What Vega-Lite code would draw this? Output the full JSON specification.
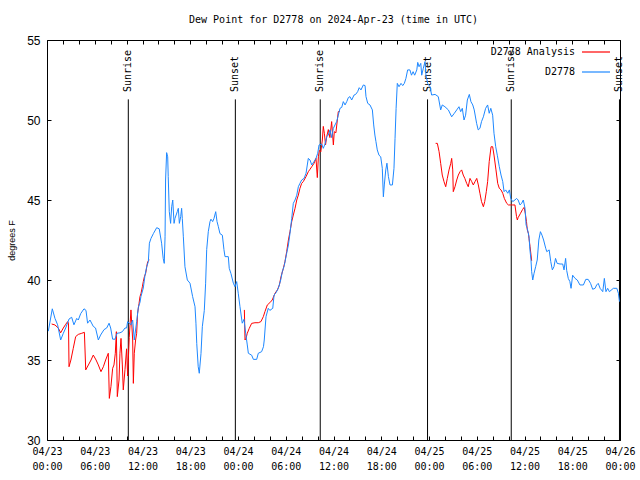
{
  "$schema": "https://vega.github.io/schema/vega-lite/v6.json",
  "width": 573,
  "height": 400,
  "autosize": {"type": "none"},
  "padding": {"left": 47, "top": 40, "right": 20, "bottom": 40},
  "background": "white",
  "config": {
    "view": {"stroke": "black", "strokeWidth": 1},
    "axis": {"grid": false, "domain": false, "tickColor": "black", "labelColor": "black", "titleColor": "black", "tickWidth": 1, "labelOverlap": false}
  },
  "title": {"text": "Dew Point for D2778 on 2024-Apr-23 (time in UTC)", "font": "DejaVu Sans Mono", "fontSize": 10, "fontWeight": "normal", "offset": 9, "anchor": "middle", "color": "black"},
  "datasets": {
    "events": [
      {"t": "2024-04-23T10:13Z", "ev": "Sunrise"},
      {"t": "2024-04-23T23:40Z", "ev": "Sunset"},
      {"t": "2024-04-24T10:20Z", "ev": "Sunrise"},
      {"t": "2024-04-24T23:49Z", "ev": "Sunset"},
      {"t": "2024-04-25T10:20Z", "ev": "Sunrise"},
      {"t": "2024-04-25T23:56Z", "ev": "Sunset"}
    ],
    "analysis": [
      {"seg": "a", "t": "2024-04-23T00:35Z", "v": 37.25},
      {"seg": "a", "t": "2024-04-23T01:00Z", "v": 37.19},
      {"seg": "a", "t": "2024-04-23T01:25Z", "v": 37.0},
      {"seg": "a", "t": "2024-04-23T01:43Z", "v": 36.7},
      {"seg": "a", "t": "2024-04-23T02:03Z", "v": 37.0},
      {"seg": "a", "t": "2024-04-23T02:21Z", "v": 37.23},
      {"seg": "a", "t": "2024-04-23T02:36Z", "v": 37.4},
      {"seg": "a", "t": "2024-04-23T02:42Z", "v": 37.3},
      {"seg": "a", "t": "2024-04-23T02:46Z", "v": 34.58},
      {"seg": "a", "t": "2024-04-23T03:00Z", "v": 35.0},
      {"seg": "a", "t": "2024-04-23T03:18Z", "v": 35.73},
      {"seg": "a", "t": "2024-04-23T03:36Z", "v": 36.46},
      {"seg": "a", "t": "2024-04-23T03:56Z", "v": 36.6},
      {"seg": "a", "t": "2024-04-23T04:22Z", "v": 36.67},
      {"seg": "a", "t": "2024-04-23T04:42Z", "v": 36.73},
      {"seg": "a", "t": "2024-04-23T04:52Z", "v": 34.38},
      {"seg": "a", "t": "2024-04-23T05:12Z", "v": 34.69},
      {"seg": "a", "t": "2024-04-23T05:32Z", "v": 35.0},
      {"seg": "a", "t": "2024-04-23T05:49Z", "v": 35.31},
      {"seg": "a", "t": "2024-04-23T06:10Z", "v": 35.0},
      {"seg": "a", "t": "2024-04-23T06:27Z", "v": 34.69},
      {"seg": "a", "t": "2024-04-23T06:47Z", "v": 34.27},
      {"seg": "a", "t": "2024-04-23T07:05Z", "v": 34.58},
      {"seg": "a", "t": "2024-04-23T07:22Z", "v": 35.0},
      {"seg": "a", "t": "2024-04-23T07:42Z", "v": 35.42},
      {"seg": "a", "t": "2024-04-23T07:50Z", "v": 32.6},
      {"seg": "a", "t": "2024-04-23T08:02Z", "v": 33.33},
      {"seg": "a", "t": "2024-04-23T08:15Z", "v": 34.48},
      {"seg": "a", "t": "2024-04-23T08:25Z", "v": 34.69},
      {"seg": "a", "t": "2024-04-23T08:35Z", "v": 35.42},
      {"seg": "a", "t": "2024-04-23T08:43Z", "v": 36.77},
      {"seg": "a", "t": "2024-04-23T08:50Z", "v": 32.71},
      {"seg": "a", "t": "2024-04-23T09:03Z", "v": 33.75},
      {"seg": "a", "t": "2024-04-23T09:10Z", "v": 35.42},
      {"seg": "a", "t": "2024-04-23T09:18Z", "v": 36.35},
      {"seg": "a", "t": "2024-04-23T09:28Z", "v": 34.69},
      {"seg": "a", "t": "2024-04-23T09:35Z", "v": 33.13},
      {"seg": "a", "t": "2024-04-23T09:48Z", "v": 34.4},
      {"seg": "a", "t": "2024-04-23T10:00Z", "v": 35.7},
      {"seg": "a", "t": "2024-04-23T10:08Z", "v": 34.0},
      {"seg": "a", "t": "2024-04-23T10:20Z", "v": 36.4},
      {"seg": "a", "t": "2024-04-23T10:33Z", "v": 38.13},
      {"seg": "a", "t": "2024-04-23T10:46Z", "v": 36.25},
      {"seg": "a", "t": "2024-04-23T10:51Z", "v": 33.54},
      {"seg": "a", "t": "2024-04-23T10:58Z", "v": 35.42},
      {"seg": "a", "t": "2024-04-23T11:08Z", "v": 36.25},
      {"seg": "a", "t": "2024-04-23T11:16Z", "v": 36.67},
      {"seg": "a", "t": "2024-04-23T11:23Z", "v": 37.92},
      {"seg": "a", "t": "2024-04-23T11:34Z", "v": 38.54},
      {"seg": "a", "t": "2024-04-23T11:41Z", "v": 38.96},
      {"seg": "a", "t": "2024-04-23T11:49Z", "v": 39.17},
      {"seg": "a", "t": "2024-04-23T11:59Z", "v": 39.58},
      {"seg": "a", "t": "2024-04-23T12:06Z", "v": 39.9},
      {"seg": "a", "t": "2024-04-23T12:14Z", "v": 40.2},
      {"seg": "a", "t": "2024-04-23T12:24Z", "v": 40.42},
      {"seg": "a", "t": "2024-04-23T12:32Z", "v": 40.83},
      {"seg": "a", "t": "2024-04-23T12:39Z", "v": 41.15},
      {"seg": "a", "t": "2024-04-23T12:52Z", "v": 41.25},
      {"seg": "b", "t": "2024-04-24T00:48Z", "v": 38.13},
      {"seg": "b", "t": "2024-04-24T00:53Z", "v": 36.25},
      {"seg": "b", "t": "2024-04-24T01:00Z", "v": 36.35},
      {"seg": "b", "t": "2024-04-24T01:10Z", "v": 36.67},
      {"seg": "b", "t": "2024-04-24T01:25Z", "v": 36.98},
      {"seg": "b", "t": "2024-04-24T01:43Z", "v": 37.29},
      {"seg": "b", "t": "2024-04-24T02:08Z", "v": 37.33},
      {"seg": "b", "t": "2024-04-24T02:33Z", "v": 37.33},
      {"seg": "b", "t": "2024-04-24T02:53Z", "v": 37.4},
      {"seg": "b", "t": "2024-04-24T03:11Z", "v": 37.71},
      {"seg": "b", "t": "2024-04-24T03:23Z", "v": 38.02},
      {"seg": "b", "t": "2024-04-24T03:41Z", "v": 38.44},
      {"seg": "b", "t": "2024-04-24T04:00Z", "v": 38.58},
      {"seg": "b", "t": "2024-04-24T04:18Z", "v": 38.75},
      {"seg": "b", "t": "2024-04-24T04:39Z", "v": 39.17},
      {"seg": "b", "t": "2024-04-24T04:57Z", "v": 39.38},
      {"seg": "b", "t": "2024-04-24T05:12Z", "v": 39.69},
      {"seg": "b", "t": "2024-04-24T05:24Z", "v": 40.2},
      {"seg": "b", "t": "2024-04-24T05:42Z", "v": 40.73},
      {"seg": "b", "t": "2024-04-24T05:54Z", "v": 41.15},
      {"seg": "b", "t": "2024-04-24T06:07Z", "v": 41.77},
      {"seg": "b", "t": "2024-04-24T06:20Z", "v": 42.5},
      {"seg": "b", "t": "2024-04-24T06:32Z", "v": 43.02},
      {"seg": "b", "t": "2024-04-24T06:45Z", "v": 43.65},
      {"seg": "b", "t": "2024-04-24T06:57Z", "v": 44.06},
      {"seg": "b", "t": "2024-04-24T07:10Z", "v": 44.48},
      {"seg": "b", "t": "2024-04-24T07:23Z", "v": 45.0},
      {"seg": "b", "t": "2024-04-24T07:35Z", "v": 45.31},
      {"seg": "b", "t": "2024-04-24T07:47Z", "v": 45.73},
      {"seg": "b", "t": "2024-04-24T08:00Z", "v": 46.04},
      {"seg": "b", "t": "2024-04-24T08:12Z", "v": 46.15},
      {"seg": "b", "t": "2024-04-24T08:33Z", "v": 46.46},
      {"seg": "b", "t": "2024-04-24T08:50Z", "v": 46.77},
      {"seg": "b", "t": "2024-04-24T09:03Z", "v": 46.92},
      {"seg": "b", "t": "2024-04-24T09:16Z", "v": 47.08},
      {"seg": "b", "t": "2024-04-24T09:33Z", "v": 47.29},
      {"seg": "b", "t": "2024-04-24T09:48Z", "v": 47.6},
      {"seg": "b", "t": "2024-04-24T09:58Z", "v": 46.4},
      {"seg": "b", "t": "2024-04-24T10:06Z", "v": 47.7},
      {"seg": "b", "t": "2024-04-24T10:13Z", "v": 48.1},
      {"seg": "b", "t": "2024-04-24T10:24Z", "v": 48.0},
      {"seg": "b", "t": "2024-04-24T10:36Z", "v": 48.75},
      {"seg": "b", "t": "2024-04-24T10:43Z", "v": 49.6},
      {"seg": "b", "t": "2024-04-24T10:51Z", "v": 49.17},
      {"seg": "b", "t": "2024-04-24T11:00Z", "v": 48.44},
      {"seg": "b", "t": "2024-04-24T11:09Z", "v": 48.96},
      {"seg": "b", "t": "2024-04-24T11:21Z", "v": 49.4},
      {"seg": "b", "t": "2024-04-24T11:33Z", "v": 48.9},
      {"seg": "b", "t": "2024-04-24T11:46Z", "v": 49.9},
      {"seg": "b", "t": "2024-04-24T11:59Z", "v": 48.44},
      {"seg": "b", "t": "2024-04-24T12:06Z", "v": 49.27},
      {"seg": "b", "t": "2024-04-24T12:18Z", "v": 49.2},
      {"seg": "b", "t": "2024-04-24T12:29Z", "v": 50.0},
      {"seg": "b", "t": "2024-04-24T12:36Z", "v": 50.52},
      {"seg": "b", "t": "2024-04-24T12:49Z", "v": 50.56},
      {"seg": "c", "t": "2024-04-25T00:50Z", "v": 48.54},
      {"seg": "c", "t": "2024-04-25T01:03Z", "v": 48.54},
      {"seg": "c", "t": "2024-04-25T01:16Z", "v": 48.02},
      {"seg": "c", "t": "2024-04-25T01:28Z", "v": 47.29},
      {"seg": "c", "t": "2024-04-25T01:40Z", "v": 46.56},
      {"seg": "c", "t": "2024-04-25T01:53Z", "v": 46.15},
      {"seg": "c", "t": "2024-04-25T02:06Z", "v": 45.83},
      {"seg": "c", "t": "2024-04-25T02:18Z", "v": 46.35},
      {"seg": "c", "t": "2024-04-25T02:31Z", "v": 46.88},
      {"seg": "c", "t": "2024-04-25T02:44Z", "v": 47.29},
      {"seg": "c", "t": "2024-04-25T02:51Z", "v": 47.6},
      {"seg": "c", "t": "2024-04-25T02:59Z", "v": 46.88},
      {"seg": "c", "t": "2024-04-25T03:03Z", "v": 45.52},
      {"seg": "c", "t": "2024-04-25T03:16Z", "v": 45.83},
      {"seg": "c", "t": "2024-04-25T03:29Z", "v": 46.25},
      {"seg": "c", "t": "2024-04-25T03:41Z", "v": 46.56},
      {"seg": "c", "t": "2024-04-25T03:54Z", "v": 46.77},
      {"seg": "c", "t": "2024-04-25T04:06Z", "v": 46.88},
      {"seg": "c", "t": "2024-04-25T04:18Z", "v": 46.56},
      {"seg": "c", "t": "2024-04-25T04:30Z", "v": 46.35},
      {"seg": "c", "t": "2024-04-25T04:44Z", "v": 46.04},
      {"seg": "c", "t": "2024-04-25T04:56Z", "v": 45.83},
      {"seg": "c", "t": "2024-04-25T05:09Z", "v": 46.35},
      {"seg": "c", "t": "2024-04-25T05:22Z", "v": 46.15},
      {"seg": "c", "t": "2024-04-25T05:34Z", "v": 45.94},
      {"seg": "c", "t": "2024-04-25T05:47Z", "v": 46.15},
      {"seg": "c", "t": "2024-04-25T06:00Z", "v": 46.35},
      {"seg": "c", "t": "2024-04-25T06:12Z", "v": 45.94},
      {"seg": "c", "t": "2024-04-25T06:24Z", "v": 45.42},
      {"seg": "c", "t": "2024-04-25T06:36Z", "v": 44.9},
      {"seg": "c", "t": "2024-04-25T06:50Z", "v": 44.58},
      {"seg": "c", "t": "2024-04-25T07:00Z", "v": 44.9},
      {"seg": "c", "t": "2024-04-25T07:12Z", "v": 45.52},
      {"seg": "c", "t": "2024-04-25T07:22Z", "v": 46.15},
      {"seg": "c", "t": "2024-04-25T07:34Z", "v": 47.4},
      {"seg": "c", "t": "2024-04-25T07:48Z", "v": 48.33},
      {"seg": "c", "t": "2024-04-25T08:00Z", "v": 48.33},
      {"seg": "c", "t": "2024-04-25T08:10Z", "v": 47.81},
      {"seg": "c", "t": "2024-04-25T08:25Z", "v": 46.88},
      {"seg": "c", "t": "2024-04-25T08:38Z", "v": 46.04},
      {"seg": "c", "t": "2024-04-25T08:50Z", "v": 45.73},
      {"seg": "c", "t": "2024-04-25T09:03Z", "v": 45.63},
      {"seg": "c", "t": "2024-04-25T09:16Z", "v": 45.42},
      {"seg": "c", "t": "2024-04-25T09:28Z", "v": 45.1},
      {"seg": "c", "t": "2024-04-25T09:46Z", "v": 44.79},
      {"seg": "c", "t": "2024-04-25T09:59Z", "v": 44.69},
      {"seg": "c", "t": "2024-04-25T10:16Z", "v": 44.69},
      {"seg": "c", "t": "2024-04-25T10:31Z", "v": 44.69},
      {"seg": "c", "t": "2024-04-25T10:48Z", "v": 44.69},
      {"seg": "c", "t": "2024-04-25T11:00Z", "v": 43.96},
      {"seg": "c", "t": "2024-04-25T11:06Z", "v": 43.75},
      {"seg": "c", "t": "2024-04-25T11:12Z", "v": 43.9},
      {"seg": "c", "t": "2024-04-25T11:30Z", "v": 44.17},
      {"seg": "c", "t": "2024-04-25T11:45Z", "v": 44.4},
      {"seg": "c", "t": "2024-04-25T11:57Z", "v": 44.54},
      {"seg": "c", "t": "2024-04-25T12:06Z", "v": 44.17},
      {"seg": "c", "t": "2024-04-25T12:15Z", "v": 43.65},
      {"seg": "c", "t": "2024-04-25T12:21Z", "v": 43.13},
      {"seg": "c", "t": "2024-04-25T12:30Z", "v": 42.9},
      {"seg": "c", "t": "2024-04-25T12:34Z", "v": 42.6},
      {"seg": "c", "t": "2024-04-25T12:42Z", "v": 42.08},
      {"seg": "c", "t": "2024-04-25T12:54Z", "v": 41.2}
    ],
    "obs": [
      {"t": "2024-04-23T00:10Z", "v": 36.8},
      {"t": "2024-04-23T00:40Z", "v": 38.2},
      {"t": "2024-04-23T01:00Z", "v": 37.6},
      {"t": "2024-04-23T01:20Z", "v": 37.2},
      {"t": "2024-04-23T01:43Z", "v": 36.25},
      {"t": "2024-04-23T02:03Z", "v": 36.67},
      {"t": "2024-04-23T02:21Z", "v": 37.0},
      {"t": "2024-04-23T02:46Z", "v": 37.56},
      {"t": "2024-04-23T03:06Z", "v": 37.67},
      {"t": "2024-04-23T03:23Z", "v": 37.2},
      {"t": "2024-04-23T03:44Z", "v": 37.6},
      {"t": "2024-04-23T03:56Z", "v": 37.5},
      {"t": "2024-04-23T04:14Z", "v": 37.9},
      {"t": "2024-04-23T04:39Z", "v": 38.2},
      {"t": "2024-04-23T04:54Z", "v": 38.1},
      {"t": "2024-04-23T05:06Z", "v": 37.3},
      {"t": "2024-04-23T05:24Z", "v": 37.5},
      {"t": "2024-04-23T05:49Z", "v": 37.1},
      {"t": "2024-04-23T06:06Z", "v": 37.0},
      {"t": "2024-04-23T06:27Z", "v": 36.25},
      {"t": "2024-04-23T06:44Z", "v": 36.56},
      {"t": "2024-04-23T07:10Z", "v": 36.9},
      {"t": "2024-04-23T07:30Z", "v": 37.0},
      {"t": "2024-04-23T07:48Z", "v": 37.3},
      {"t": "2024-04-23T08:00Z", "v": 37.0},
      {"t": "2024-04-23T08:15Z", "v": 36.3},
      {"t": "2024-04-23T08:33Z", "v": 36.3},
      {"t": "2024-04-23T08:48Z", "v": 36.67},
      {"t": "2024-04-23T09:10Z", "v": 36.7},
      {"t": "2024-04-23T09:28Z", "v": 36.77},
      {"t": "2024-04-23T09:48Z", "v": 37.0},
      {"t": "2024-04-23T10:00Z", "v": 37.0},
      {"t": "2024-04-23T10:08Z", "v": 37.4},
      {"t": "2024-04-23T10:33Z", "v": 37.2},
      {"t": "2024-04-23T10:46Z", "v": 37.5},
      {"t": "2024-04-23T10:58Z", "v": 36.25},
      {"t": "2024-04-23T11:16Z", "v": 37.4},
      {"t": "2024-04-23T11:29Z", "v": 38.3},
      {"t": "2024-04-23T11:41Z", "v": 38.6},
      {"t": "2024-04-23T11:48Z", "v": 38.96},
      {"t": "2024-04-23T12:06Z", "v": 39.5},
      {"t": "2024-04-23T12:19Z", "v": 40.3},
      {"t": "2024-04-23T12:32Z", "v": 40.83},
      {"t": "2024-04-23T12:44Z", "v": 41.15},
      {"t": "2024-04-23T12:52Z", "v": 42.3},
      {"t": "2024-04-23T13:04Z", "v": 42.6},
      {"t": "2024-04-23T13:22Z", "v": 42.9},
      {"t": "2024-04-23T13:47Z", "v": 43.27},
      {"t": "2024-04-23T14:06Z", "v": 43.2},
      {"t": "2024-04-23T14:24Z", "v": 42.3},
      {"t": "2024-04-23T14:36Z", "v": 41.35},
      {"t": "2024-04-23T14:44Z", "v": 41.04},
      {"t": "2024-04-23T14:50Z", "v": 42.7},
      {"t": "2024-04-23T14:54Z", "v": 46.25},
      {"t": "2024-04-23T15:02Z", "v": 47.96},
      {"t": "2024-04-23T15:10Z", "v": 47.7},
      {"t": "2024-04-23T15:14Z", "v": 46.46},
      {"t": "2024-04-23T15:22Z", "v": 44.27},
      {"t": "2024-04-23T15:32Z", "v": 43.54},
      {"t": "2024-04-23T15:40Z", "v": 44.58},
      {"t": "2024-04-23T15:48Z", "v": 45.0},
      {"t": "2024-04-23T15:58Z", "v": 43.54},
      {"t": "2024-04-23T16:05Z", "v": 43.85},
      {"t": "2024-04-23T16:22Z", "v": 44.27},
      {"t": "2024-04-23T16:30Z", "v": 44.48},
      {"t": "2024-04-23T16:38Z", "v": 43.54},
      {"t": "2024-04-23T16:48Z", "v": 43.96},
      {"t": "2024-04-23T16:55Z", "v": 44.48},
      {"t": "2024-04-23T17:00Z", "v": 43.85},
      {"t": "2024-04-23T17:08Z", "v": 42.7},
      {"t": "2024-04-23T17:20Z", "v": 40.83},
      {"t": "2024-04-23T17:38Z", "v": 40.0},
      {"t": "2024-04-23T17:58Z", "v": 39.8},
      {"t": "2024-04-23T18:18Z", "v": 38.96},
      {"t": "2024-04-23T18:36Z", "v": 38.33},
      {"t": "2024-04-23T18:43Z", "v": 37.3},
      {"t": "2024-04-23T18:49Z", "v": 36.04},
      {"t": "2024-04-23T19:00Z", "v": 34.58},
      {"t": "2024-04-23T19:08Z", "v": 34.17},
      {"t": "2024-04-23T19:21Z", "v": 35.4},
      {"t": "2024-04-23T19:31Z", "v": 37.08},
      {"t": "2024-04-23T19:46Z", "v": 38.1},
      {"t": "2024-04-23T19:56Z", "v": 39.8},
      {"t": "2024-04-23T20:04Z", "v": 41.9},
      {"t": "2024-04-23T20:16Z", "v": 43.02},
      {"t": "2024-04-23T20:29Z", "v": 43.65},
      {"t": "2024-04-23T20:36Z", "v": 43.8},
      {"t": "2024-04-23T20:49Z", "v": 43.65},
      {"t": "2024-04-23T20:59Z", "v": 43.85},
      {"t": "2024-04-23T21:12Z", "v": 44.27},
      {"t": "2024-04-23T21:22Z", "v": 43.65},
      {"t": "2024-04-23T21:32Z", "v": 43.33},
      {"t": "2024-04-23T21:44Z", "v": 42.9},
      {"t": "2024-04-23T22:02Z", "v": 42.8},
      {"t": "2024-04-23T22:14Z", "v": 41.9},
      {"t": "2024-04-23T22:22Z", "v": 41.46},
      {"t": "2024-04-23T22:47Z", "v": 41.46},
      {"t": "2024-04-23T22:54Z", "v": 40.73},
      {"t": "2024-04-23T23:07Z", "v": 40.4},
      {"t": "2024-04-23T23:25Z", "v": 39.8},
      {"t": "2024-04-23T23:37Z", "v": 39.58},
      {"t": "2024-04-23T23:50Z", "v": 39.9},
      {"t": "2024-04-24T00:02Z", "v": 39.17},
      {"t": "2024-04-24T00:15Z", "v": 38.33},
      {"t": "2024-04-24T00:32Z", "v": 37.3},
      {"t": "2024-04-24T00:45Z", "v": 37.54},
      {"t": "2024-04-24T00:58Z", "v": 36.67},
      {"t": "2024-04-24T01:10Z", "v": 35.94},
      {"t": "2024-04-24T01:18Z", "v": 35.42},
      {"t": "2024-04-24T01:43Z", "v": 35.3},
      {"t": "2024-04-24T01:56Z", "v": 35.04},
      {"t": "2024-04-24T02:21Z", "v": 35.04},
      {"t": "2024-04-24T02:33Z", "v": 35.42},
      {"t": "2024-04-24T02:58Z", "v": 35.52},
      {"t": "2024-04-24T03:12Z", "v": 35.83},
      {"t": "2024-04-24T03:18Z", "v": 36.25},
      {"t": "2024-04-24T03:31Z", "v": 37.7},
      {"t": "2024-04-24T03:48Z", "v": 38.23},
      {"t": "2024-04-24T04:00Z", "v": 38.1},
      {"t": "2024-04-24T04:22Z", "v": 38.23},
      {"t": "2024-04-24T04:32Z", "v": 39.06},
      {"t": "2024-04-24T04:46Z", "v": 39.2},
      {"t": "2024-04-24T05:04Z", "v": 39.48},
      {"t": "2024-04-24T05:22Z", "v": 40.0},
      {"t": "2024-04-24T05:34Z", "v": 40.52},
      {"t": "2024-04-24T05:49Z", "v": 40.9},
      {"t": "2024-04-24T06:07Z", "v": 41.67},
      {"t": "2024-04-24T06:20Z", "v": 42.19},
      {"t": "2024-04-24T06:32Z", "v": 42.92},
      {"t": "2024-04-24T06:45Z", "v": 43.85},
      {"t": "2024-04-24T06:57Z", "v": 44.79},
      {"t": "2024-04-24T07:10Z", "v": 45.0},
      {"t": "2024-04-24T07:23Z", "v": 45.3},
      {"t": "2024-04-24T07:35Z", "v": 45.83},
      {"t": "2024-04-24T07:47Z", "v": 46.04},
      {"t": "2024-04-24T08:00Z", "v": 46.25},
      {"t": "2024-04-24T08:18Z", "v": 46.35},
      {"t": "2024-04-24T08:33Z", "v": 46.67},
      {"t": "2024-04-24T08:50Z", "v": 47.6},
      {"t": "2024-04-24T09:03Z", "v": 47.5},
      {"t": "2024-04-24T09:16Z", "v": 47.19},
      {"t": "2024-04-24T09:33Z", "v": 47.4},
      {"t": "2024-04-24T09:48Z", "v": 47.6},
      {"t": "2024-04-24T10:01Z", "v": 47.92},
      {"t": "2024-04-24T10:11Z", "v": 48.44},
      {"t": "2024-04-24T10:31Z", "v": 48.5},
      {"t": "2024-04-24T10:43Z", "v": 48.23},
      {"t": "2024-04-24T10:56Z", "v": 48.5},
      {"t": "2024-04-24T11:09Z", "v": 48.96},
      {"t": "2024-04-24T11:21Z", "v": 49.06},
      {"t": "2024-04-24T11:34Z", "v": 49.38},
      {"t": "2024-04-24T11:46Z", "v": 48.9},
      {"t": "2024-04-24T11:59Z", "v": 49.48},
      {"t": "2024-04-24T12:11Z", "v": 49.69},
      {"t": "2024-04-24T12:24Z", "v": 49.9},
      {"t": "2024-04-24T12:36Z", "v": 50.3},
      {"t": "2024-04-24T12:49Z", "v": 50.73},
      {"t": "2024-04-24T13:02Z", "v": 50.79},
      {"t": "2024-04-24T13:14Z", "v": 51.15},
      {"t": "2024-04-24T13:27Z", "v": 50.94},
      {"t": "2024-04-24T13:40Z", "v": 51.15},
      {"t": "2024-04-24T13:52Z", "v": 51.4},
      {"t": "2024-04-24T14:04Z", "v": 51.46},
      {"t": "2024-04-24T14:17Z", "v": 51.25},
      {"t": "2024-04-24T14:35Z", "v": 51.56},
      {"t": "2024-04-24T14:47Z", "v": 51.6},
      {"t": "2024-04-24T15:02Z", "v": 51.77},
      {"t": "2024-04-24T15:14Z", "v": 52.02},
      {"t": "2024-04-24T15:27Z", "v": 51.88},
      {"t": "2024-04-24T15:45Z", "v": 52.19},
      {"t": "2024-04-24T15:58Z", "v": 52.15},
      {"t": "2024-04-24T16:05Z", "v": 51.46},
      {"t": "2024-04-24T16:18Z", "v": 51.04},
      {"t": "2024-04-24T16:35Z", "v": 50.94},
      {"t": "2024-04-24T16:53Z", "v": 50.63},
      {"t": "2024-04-24T17:03Z", "v": 49.69},
      {"t": "2024-04-24T17:12Z", "v": 49.06},
      {"t": "2024-04-24T17:20Z", "v": 48.65},
      {"t": "2024-04-24T17:30Z", "v": 48.13},
      {"t": "2024-04-24T17:43Z", "v": 47.8},
      {"t": "2024-04-24T17:56Z", "v": 47.7},
      {"t": "2024-04-24T18:08Z", "v": 46.98},
      {"t": "2024-04-24T18:16Z", "v": 45.2},
      {"t": "2024-04-24T18:23Z", "v": 45.94},
      {"t": "2024-04-24T18:34Z", "v": 46.88},
      {"t": "2024-04-24T18:43Z", "v": 47.3},
      {"t": "2024-04-24T18:54Z", "v": 46.46},
      {"t": "2024-04-24T19:06Z", "v": 45.94},
      {"t": "2024-04-24T19:24Z", "v": 45.94},
      {"t": "2024-04-24T19:36Z", "v": 46.98},
      {"t": "2024-04-24T19:44Z", "v": 48.85},
      {"t": "2024-04-24T19:52Z", "v": 50.73},
      {"t": "2024-04-24T20:01Z", "v": 52.29},
      {"t": "2024-04-24T20:14Z", "v": 52.08},
      {"t": "2024-04-24T20:29Z", "v": 52.29},
      {"t": "2024-04-24T20:42Z", "v": 52.15},
      {"t": "2024-04-24T20:54Z", "v": 52.29},
      {"t": "2024-04-24T21:06Z", "v": 52.6},
      {"t": "2024-04-24T21:19Z", "v": 53.13},
      {"t": "2024-04-24T21:36Z", "v": 53.13},
      {"t": "2024-04-24T21:48Z", "v": 52.8},
      {"t": "2024-04-24T22:00Z", "v": 53.02},
      {"t": "2024-04-24T22:12Z", "v": 52.8},
      {"t": "2024-04-24T22:28Z", "v": 53.13},
      {"t": "2024-04-24T22:35Z", "v": 53.6},
      {"t": "2024-04-24T22:45Z", "v": 53.33},
      {"t": "2024-04-24T22:58Z", "v": 53.54},
      {"t": "2024-04-24T23:05Z", "v": 52.8},
      {"t": "2024-04-24T23:17Z", "v": 53.23},
      {"t": "2024-04-24T23:30Z", "v": 53.65},
      {"t": "2024-04-24T23:37Z", "v": 52.8},
      {"t": "2024-04-24T23:50Z", "v": 52.29},
      {"t": "2024-04-25T00:08Z", "v": 52.08},
      {"t": "2024-04-25T00:20Z", "v": 51.56},
      {"t": "2024-04-25T00:46Z", "v": 51.6},
      {"t": "2024-04-25T01:10Z", "v": 51.46},
      {"t": "2024-04-25T01:28Z", "v": 50.63},
      {"t": "2024-04-25T01:40Z", "v": 50.94},
      {"t": "2024-04-25T02:00Z", "v": 50.83},
      {"t": "2024-04-25T02:26Z", "v": 50.63},
      {"t": "2024-04-25T02:51Z", "v": 50.2},
      {"t": "2024-04-25T03:11Z", "v": 50.42},
      {"t": "2024-04-25T03:29Z", "v": 50.63},
      {"t": "2024-04-25T03:46Z", "v": 50.83},
      {"t": "2024-04-25T03:59Z", "v": 50.52},
      {"t": "2024-04-25T04:11Z", "v": 50.73},
      {"t": "2024-04-25T04:24Z", "v": 50.0},
      {"t": "2024-04-25T04:36Z", "v": 50.3},
      {"t": "2024-04-25T04:49Z", "v": 51.25},
      {"t": "2024-04-25T05:04Z", "v": 51.6},
      {"t": "2024-04-25T05:16Z", "v": 51.15},
      {"t": "2024-04-25T05:30Z", "v": 50.94},
      {"t": "2024-04-25T05:41Z", "v": 50.63},
      {"t": "2024-04-25T05:59Z", "v": 49.79},
      {"t": "2024-04-25T06:11Z", "v": 49.38},
      {"t": "2024-04-25T06:24Z", "v": 49.48},
      {"t": "2024-04-25T06:36Z", "v": 49.9},
      {"t": "2024-04-25T06:50Z", "v": 50.2},
      {"t": "2024-04-25T07:07Z", "v": 50.73},
      {"t": "2024-04-25T07:22Z", "v": 50.94},
      {"t": "2024-04-25T07:34Z", "v": 50.42},
      {"t": "2024-04-25T07:46Z", "v": 50.73},
      {"t": "2024-04-25T08:00Z", "v": 50.3},
      {"t": "2024-04-25T08:10Z", "v": 49.17},
      {"t": "2024-04-25T08:23Z", "v": 48.33},
      {"t": "2024-04-25T08:35Z", "v": 47.8},
      {"t": "2024-04-25T08:50Z", "v": 47.08},
      {"t": "2024-04-25T09:03Z", "v": 46.56},
      {"t": "2024-04-25T09:16Z", "v": 46.15},
      {"t": "2024-04-25T09:26Z", "v": 45.52},
      {"t": "2024-04-25T09:38Z", "v": 45.63},
      {"t": "2024-04-25T09:54Z", "v": 45.42},
      {"t": "2024-04-25T10:06Z", "v": 45.63},
      {"t": "2024-04-25T10:16Z", "v": 45.1},
      {"t": "2024-04-25T10:31Z", "v": 44.9},
      {"t": "2024-04-25T10:48Z", "v": 45.0},
      {"t": "2024-04-25T11:00Z", "v": 45.1},
      {"t": "2024-04-25T11:12Z", "v": 45.0},
      {"t": "2024-04-25T11:26Z", "v": 44.69},
      {"t": "2024-04-25T11:39Z", "v": 44.8},
      {"t": "2024-04-25T11:51Z", "v": 45.0},
      {"t": "2024-04-25T12:04Z", "v": 44.48},
      {"t": "2024-04-25T12:12Z", "v": 43.44},
      {"t": "2024-04-25T12:21Z", "v": 43.23},
      {"t": "2024-04-25T12:34Z", "v": 42.7},
      {"t": "2024-04-25T12:41Z", "v": 41.88},
      {"t": "2024-04-25T12:49Z", "v": 41.25},
      {"t": "2024-04-25T12:54Z", "v": 40.52},
      {"t": "2024-04-25T13:02Z", "v": 40.0},
      {"t": "2024-04-25T13:12Z", "v": 40.42},
      {"t": "2024-04-25T13:24Z", "v": 40.83},
      {"t": "2024-04-25T13:36Z", "v": 41.25},
      {"t": "2024-04-25T13:48Z", "v": 42.5},
      {"t": "2024-04-25T14:00Z", "v": 43.02},
      {"t": "2024-04-25T14:12Z", "v": 42.8},
      {"t": "2024-04-25T14:24Z", "v": 42.5},
      {"t": "2024-04-25T14:40Z", "v": 41.98},
      {"t": "2024-04-25T14:48Z", "v": 41.77},
      {"t": "2024-04-25T15:06Z", "v": 41.88},
      {"t": "2024-04-25T15:18Z", "v": 41.15},
      {"t": "2024-04-25T15:30Z", "v": 40.63},
      {"t": "2024-04-25T15:42Z", "v": 40.83},
      {"t": "2024-04-25T15:54Z", "v": 41.35},
      {"t": "2024-04-25T16:06Z", "v": 41.04},
      {"t": "2024-04-25T16:28Z", "v": 41.0},
      {"t": "2024-04-25T16:48Z", "v": 41.0},
      {"t": "2024-04-25T16:58Z", "v": 40.63},
      {"t": "2024-04-25T17:10Z", "v": 41.35},
      {"t": "2024-04-25T17:18Z", "v": 40.6},
      {"t": "2024-04-25T17:30Z", "v": 40.1},
      {"t": "2024-04-25T17:42Z", "v": 39.9},
      {"t": "2024-04-25T17:51Z", "v": 39.48},
      {"t": "2024-04-25T18:03Z", "v": 40.3},
      {"t": "2024-04-25T18:21Z", "v": 40.1},
      {"t": "2024-04-25T18:38Z", "v": 40.0},
      {"t": "2024-04-25T18:58Z", "v": 39.69},
      {"t": "2024-04-25T19:24Z", "v": 39.69},
      {"t": "2024-04-25T19:42Z", "v": 40.04},
      {"t": "2024-04-25T20:00Z", "v": 40.04},
      {"t": "2024-04-25T20:18Z", "v": 39.79},
      {"t": "2024-04-25T20:34Z", "v": 39.42},
      {"t": "2024-04-25T20:52Z", "v": 39.48},
      {"t": "2024-04-25T21:04Z", "v": 39.69},
      {"t": "2024-04-25T21:16Z", "v": 39.79},
      {"t": "2024-04-25T21:30Z", "v": 39.48},
      {"t": "2024-04-25T21:50Z", "v": 39.27},
      {"t": "2024-04-25T22:02Z", "v": 40.1},
      {"t": "2024-04-25T22:14Z", "v": 39.27},
      {"t": "2024-04-25T22:27Z", "v": 39.48},
      {"t": "2024-04-25T22:40Z", "v": 39.27},
      {"t": "2024-04-25T23:10Z", "v": 39.48},
      {"t": "2024-04-25T23:36Z", "v": 39.48},
      {"t": "2024-04-25T23:48Z", "v": 39.17},
      {"t": "2024-04-25T23:56Z", "v": 38.65}
    ]
  },
  "layer": [
    {
      "data": {"name": "events"},
      "mark": {"type": "rule", "color": "black", "strokeWidth": 1},
      "encoding": {
        "x": {
          "field": "t", "type": "temporal",
          "scale": {"type": "utc", "domain": [1713830400000, 1714089600000]},
          "axis": {
            "orient": "bottom", "title": null, "offset": -4,
            "values": [1713830400000, 1713837600000, 1713844800000, 1713852000000, 1713859200000, 1713866400000, 1713873600000, 1713880800000, 1713888000000, 1713895200000, 1713902400000, 1713909600000, 1713916800000, 1713924000000, 1713931200000, 1713938400000, 1713945600000, 1713952800000, 1713960000000, 1713967200000, 1713974400000, 1713981600000, 1713988800000, 1713996000000, 1714003200000, 1714010400000, 1714017600000, 1714024800000, 1714032000000, 1714039200000, 1714046400000, 1714053600000, 1714060800000, 1714068000000, 1714075200000, 1714082400000, 1714089600000],
            "tickSize": 4,
            "labelExpr": "utchours(datum.value) % 6 == 0 ? [utcFormat(datum.value, '%m/%d'), utcFormat(datum.value, '%H:%M')] : ''",
            "labelFont": "DejaVu Sans Mono", "labelFontSize": 10, "labelPadding": 6, "labelLineHeight": 15,
            "labelOverlap": false, "labelFlush": false, "labelAngle": 0, "labelAlign": "center", "labelBaseline": "top"
          }
        },
        "y": {
          "datum": 51.29, "type": "quantitative",
          "scale": {"domain": [30, 55], "nice": false, "zero": false},
          "axis": {
            "orient": "left", "title": "degrees F", "values": [30, 35, 40, 45, 50, 55], "offset": -4,
            "tickSize": 4, "labelFont": "Liberation Sans", "labelFontSize": 12, "labelPadding": 7,
            "titleFont": "Liberation Sans", "titleFontSize": 9, "titleFontWeight": "normal", "titlePadding": 10
          }
        },
        "y2": {"datum": 30}
      }
    },
    {
      "data": {"name": "events"},
      "mark": {"type": "text", "angle": 270, "align": "left", "baseline": "middle", "font": "DejaVu Sans Mono", "fontSize": 10, "color": "black"},
      "encoding": {
        "x": {
          "field": "t", "type": "temporal",
          "axis": {
            "orient": "top", "title": null, "labels": false, "offset": -4, "tickSize": 4,
            "values": [1713830400000, 1713837600000, 1713844800000, 1713852000000, 1713859200000, 1713866400000, 1713873600000, 1713880800000, 1713888000000, 1713895200000, 1713902400000, 1713909600000, 1713916800000, 1713924000000, 1713931200000, 1713938400000, 1713945600000, 1713952800000, 1713960000000, 1713967200000, 1713974400000, 1713981600000, 1713988800000, 1713996000000, 1714003200000, 1714010400000, 1714017600000, 1714024800000, 1714032000000, 1714039200000, 1714046400000, 1714053600000, 1714060800000, 1714068000000, 1714075200000, 1714082400000, 1714089600000]
          }
        },
        "y": {
          "datum": 51.75, "type": "quantitative",
          "axis": {"orient": "right", "title": null, "labels": false, "offset": -4, "tickSize": 4, "values": [30, 35, 40, 45, 50, 55]}
        },
        "text": {"field": "ev"}
      }
    },
    {
      "data": {"name": "analysis"},
      "mark": {"type": "line", "strokeWidth": 1, "interpolate": "linear"},
      "encoding": {
        "x": {"field": "t", "type": "temporal", "axis": null},
        "y": {"field": "v", "type": "quantitative", "axis": null},
        "detail": {"field": "seg"},
        "color": {
          "datum": "D2778 Analysis",
          "scale": {"domain": ["D2778 Analysis", "D2778"], "range": ["#ff0000", "#1e88ff"]},
          "legend": {
            "title": null, "orient": "none", "legendX": 534, "legendY": -3,
            "symbolType": "stroke", "symbolSize": 784, "symbolStrokeWidth": 1.2,
            "labelFont": "DejaVu Sans Mono", "labelFontSize": 10, "labelColor": "black",
            "labelAlign": "right", "labelOffset": -36, "rowPadding": 0
          }
        }
      }
    },
    {
      "data": {"name": "obs"},
      "mark": {"type": "line", "strokeWidth": 1, "interpolate": "linear"},
      "encoding": {
        "x": {"field": "t", "type": "temporal", "axis": null},
        "y": {"field": "v", "type": "quantitative", "axis": null},
        "color": {"datum": "D2778"}
      }
    }
  ],
  "resolve": {"axis": {"x": "independent", "y": "independent"}}
}
